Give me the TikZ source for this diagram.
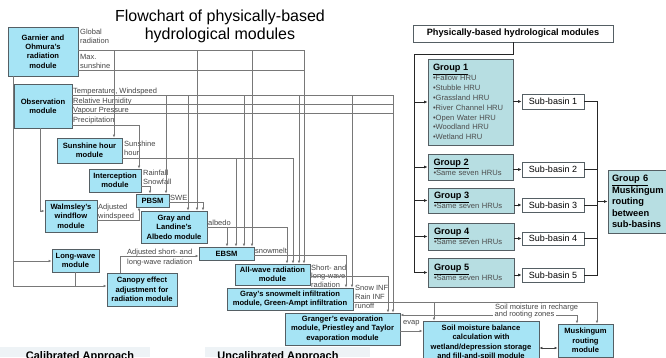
\documentclass[tikz,border=0pt]{standalone}
\usepackage{fontspec}
\setmainfont{Liberation Sans}
\usetikzlibrary{arrows.meta}
\definecolor{modfill}{RGB}{166,228,245}
\definecolor{grpfill}{RGB}{183,222,226}
\definecolor{bord}{RGB}{85,95,100}
\definecolor{lblc}{RGB}{70,70,70}
\definecolor{wirec}{RGB}{120,120,120}
\definecolor{bandc}{RGB}{238,243,246}
\newcommand{\ghead}[1]{{\color{black}\fontsize{9.2}{11}\selectfont\bfseries\underline{#1}}}
\begin{document}
\begin{tikzpicture}[x=1pt,y=-1pt,
  wh/.style 2 args={minimum width=#1, minimum height=#2},
  mod/.style={draw=bord, line width=0.8pt, fill=modfill, inner sep=0pt, align=center, font=\fontsize{7.6}{9.4}\selectfont\bfseries},
  grp/.style={draw=bord, line width=0.9pt, fill=grpfill, inner sep=0pt, align=left, text=black!70, font=\fontsize{7.6}{9.9}\selectfont},
  subb/.style={draw=bord, line width=0.7pt, fill=white, inner sep=0pt, font=\fontsize{9}{10}\selectfont},
  lab/.style={inner sep=0pt, anchor=north west, align=left, text=lblc, font=\fontsize{7.5}{9.3}\selectfont},
  wire/.style={draw=wirec, line width=0.6pt},
  arr/.style={wire, -{Latex[length=3pt,width=2.6pt]}},
  bus/.style={draw=black!85, line width=0.9pt},
  barr/.style={bus, -{Latex[length=3.5pt,width=3pt]}},
]
\useasboundingbox (0,0) rectangle (666,357);
\fill[white] (0,0) rectangle (666,357);
\fill[bandc] (0,347) rectangle (150,357);
\fill[bandc] (205,347) rectangle (370,357);

% title
\node[align=center, font=\fontsize{16}{18}\selectfont] (title) at (220,26) {Flowchart of physically-based\\hydrological modules};

% left modules
\node[mod, wh={70}{49}] (garnier) at (43,51.5) {Garnier and\\Ohmura's\\radiation\\module};
\node[mod, wh={58}{44}] (obs) at (43,106) {Observation\\module};
\node[mod, wh={65}{25}] (sun) at (89.5,150.5) {Sunshine hour\\module};
\node[mod, wh={52}{23}] (intc) at (115,180.5) {Interception\\module};
\node[mod, wh={33}{13}] (pbsm) at (152.5,200.5) {PBSM};
\node[mod, wh={52}{32}] (walm) at (71,216) {Walmsley's\\windflow\\module};
\node[mod, wh={66}{32}] (gray) at (174,227) {Gray and\\Landine's\\Albedo module};
\node[mod, wh={47}{23}] (lw) at (75.5,260.5) {Long-wave\\module};
\node[mod, wh={70}{33}] (canopy) at (142,289.5) {Canopy effect\\adjustment for\\radiation module};
\node[mod, wh={55}{13}] (ebsm) at (226.5,253.5) {EBSM};
\node[mod, wh={75}{21}] (allw) at (272.5,274.5) {All-wave radiation\\module};
\node[mod, wh={126}{22}] (snowinf) at (290,299) {Gray's snowmelt infiltration\\module, Green-Ampt infiltration};
\node[mod, wh={115}{32}] (granger) at (342.5,329) {Granger's evaporation\\module, Priestley and Taylor\\evaporation module};
\node[mod, wh={116}{43}] (soil) at (481,342.5) {Soil moisture balance\\calculation with\\wetland/depression storage\\and fill-and-spill module};
\node[mod, wh={55}{33}] (musk) at (585.5,340.5) {Muskingum\\routing\\module};

% labels
\node[lab] (lglob) at (80,29) {Global\\radiation};
\node[lab] (lmax) at (80,54) {Max.\\sunshine};
\node[lab, anchor=base west] (ltemp) at (73,93.5) {Temperature, Windspeed};
\node[lab, anchor=base west] (lrh) at (73,103) {Relative Humidity};
\node[lab, anchor=base west] (lvp) at (73,112) {Vapour Pressure};
\node[lab, anchor=base west] (lpr) at (73,122) {Precipitation};
\node[lab] (lsun) at (124,141) {Sunshine\\hour};
\node[lab] (lrain) at (143,170) {Rainfall\\Snowfall};
\node[lab] (lswe) at (170,195) {SWE};
\node[lab] (lwind) at (98,204) {Adjusted\\windspeed};
\node[lab] (lalb) at (208,220) {albedo};
\node[lab] (lsnm) at (255,248) {snowmelt};
\node[lab, font=\fontsize{7.5}{10.5}\selectfont] (ladj) at (127,248.5) {Adjusted short- and\\long-wave radiation};
\node[lab, font=\fontsize{7.5}{8.8}\selectfont] (lsl) at (311,264.5) {Short- and\\long-wave\\radiation};
\node[lab, font=\fontsize{7.5}{8.8}\selectfont] (linf) at (355,285) {Snow INF\\Rain INF\\runoff};
\node[lab] (levap) at (403,320) {evap};

% left side connectors
\draw[wire] (garnier.east |- 0,50) -- (304,50);
\draw[wire] (garnier.east |- 0,70) -- (304,70);
\draw[arr] (114,50) -- (sun.north -| 114,0);
\draw[arr] (197,50) -- (gray.north -| 197,0);
\draw[arr] (252,50) -- (ebsm.north -| 252,0);
\draw[arr] (304,50) -- (allw.north -| 304,0);

\draw[wire] (obs.east |- 0,95) -- (393,95);
\draw[wire] (obs.east |- 0,104.5) -- (393,104.5);
\draw[wire] (obs.east |- 0,113.5) -- (393,113.5);
\draw[arr] (166,95) -- (pbsm.north -| 166,0);
\draw[arr] (188,95) -- (gray.north -| 188,0);
\draw[arr] (244,95) -- (ebsm.north -| 244,0);
\draw[arr] (299,95) -- (allw.north -| 299,0);
\draw[arr] (352,95) -- (snowinf.north -| 352,0);
\draw[arr] (393,95) -- (granger.north -| 393,0);

\draw[arr] (obs.east |- 0,125) -| (intc.north -| 139,0);
\draw[arr] (obs.south -| 40,0) |- (walm.west |- 0,211);
\draw[arr] (walm.east |- 0,220) -| (pbsm.south -| 139,0);
\draw[arr] (intc.east |- 0,186) -| (pbsm.north -| 150,0);
\draw[arr] (pbsm.east |- 0,202) -| (gray.north -| 203,0);

\draw[wire] (sun.east |- 0,158) -- (293,158);
\draw[arr] (236,158) -- (ebsm.north -| 236,0);
\draw[arr] (293,158) -- (allw.north -| 293,0);

\draw[wire] (gray.east |- 0,227) -- (287,227);
\draw[arr] (227,227) -- (ebsm.north -| 227,0);
\draw[arr] (287,227) -- (allw.north -| 287,0);

\draw[arr] (ebsm.east |- 0,255) -| (snowinf.north -| 346,0);
\draw[arr] (allw.east |- 0,276) -| (granger.north -| 388,0);

\draw[wire] (garnier.south -| 13,0) -- (13,286);
\draw[arr] (13,261) -- (lw.west |- 0,261);
\draw[arr] (13,286) -- (canopy.west |- 0,286);
\draw[wire] (lw.south -| 75,0) -- (75,286);
\draw[arr] (canopy.north -| 120,0) |- (ebsm.west |- 0,256);

\draw[wire] (snowinf.east |- 0,302) -- (597,302);
\draw[arr] (434,302) -- (soil.north -| 434,0);
\draw[arr] (597,302) -- (musk.north -| 597,0);
\draw[wire, {Latex[length=3pt,width=2.6pt]}-{Latex[length=3pt,width=2.6pt]}] (granger.east |- 0,315) -| (musk.north -| 577,0);
\node[lab] (lsoil1) at (495,303.5) {Soil moisture in recharge};
\node[lab, anchor=west, fill=white, inner xsep=1.5pt] (lsoil2) at (493,315) {and rooting zones};
\draw[arr] (granger.east |- 0,331) -- (soil.west |- 0,331);
\draw[draw=black!75, line width=0.7pt, {Latex[length=3pt,width=2.6pt]}-{Latex[length=3pt,width=2.6pt]}] (soil.east |- 0,348) -- (musk.west |- 0,348);

% right side
\node[subb, wh={200}{17}, font=\fontsize{9.2}{10}\selectfont\bfseries] (phys) at (513,33.5) {Physically-based hydrological modules};
\node[grp, wh={85}{86}, text width=75pt] (g1) at (470.5,102) {\ghead{Group 1}\\•Fallow HRU\\•Stubble HRU\\•Grassland HRU\\•River Channel HRU\\•Open Water HRU\\•Woodland HRU\\•Wetland HRU};
\node[grp, wh={85}{26}, text width=74pt] (g2) at (470.5,167) {\ghead{Group 2}\\•Same seven HRUs};
\node[grp, wh={86}{25}, text width=74pt] (g3) at (471,200.5) {\ghead{Group 3}\\•Same seven HRUs};
\node[grp, wh={86}{27}, text width=74pt] (g4) at (471,236.5) {\ghead{Group 4}\\•Same seven HRUs};
\node[grp, wh={86}{29}, text width=74pt] (g5) at (471,272.5) {\ghead{Group 5}\\•Same seven HRUs};
\node[grp, wh={60}{63}, text width=52pt, text=black, font=\fontsize{9.3}{11.5}\selectfont\bfseries] (g6) at (638,201.5) {\underline{Group 6}\\Muskingum\\routing\\between\\sub-basins};
\node[subb, wh={62}{15}] (sb1) at (553,101.5) {Sub-basin 1};
\node[subb, wh={62}{15}] (sb2) at (553,169.5) {Sub-basin 2};
\node[subb, wh={62}{14}] (sb3) at (553,205) {Sub-basin 3};
\node[subb, wh={62}{13}] (sb4) at (553,238.5) {Sub-basin 4};
\node[subb, wh={62}{14}] (sb5) at (553,275) {Sub-basin 5};

\coordinate (tl) at (414,54);
\draw[bus] (phys.south) |- (tl) -- (414,0 |- g5.west);
\draw[barr] (414,0 |- g1.west) -- (g1.west);
\draw[barr] (414,0 |- g2.west) -- (g2.west);
\draw[barr] (414,0 |- g3.west) -- (g3.west);
\draw[barr] (414,0 |- g4.west) -- (g4.west);
\draw[barr] (414,0 |- g5.west) -- (g5.west);
\draw[barr] (g1.east |- sb1.west) -- (sb1.west);
\draw[barr] (g2.east |- sb2.west) -- (sb2.west);
\draw[barr] (g3.east |- sb3.west) -- (sb3.west);
\draw[barr] (g4.east |- sb4.west) -- (sb4.west);
\draw[barr] (g5.east |- sb5.west) -- (sb5.west);
\draw[bus] (sb1.east) -- (597,0 |- sb1.east) -- (597,0 |- sb5.east) -- (sb5.east);
\draw[bus] (sb2.east) -- (597,0 |- sb2.east);
\draw[bus] (sb3.east) -- (597,0 |- sb3.east);
\draw[bus] (sb4.east) -- (597,0 |- sb4.east);
\draw[barr] (597,0 |- g6.west) -- (g6.west);

% bottom captions (cut by the page edge)
\node[anchor=base, font=\fontsize{11}{12}\selectfont\bfseries] (cal) at (80,359.6) {Calibrated Approach};
\node[anchor=base, font=\fontsize{11}{12}\selectfont\bfseries] (uncal) at (278,359.6) {Uncalibrated Approach};
\end{tikzpicture}
\end{document}
